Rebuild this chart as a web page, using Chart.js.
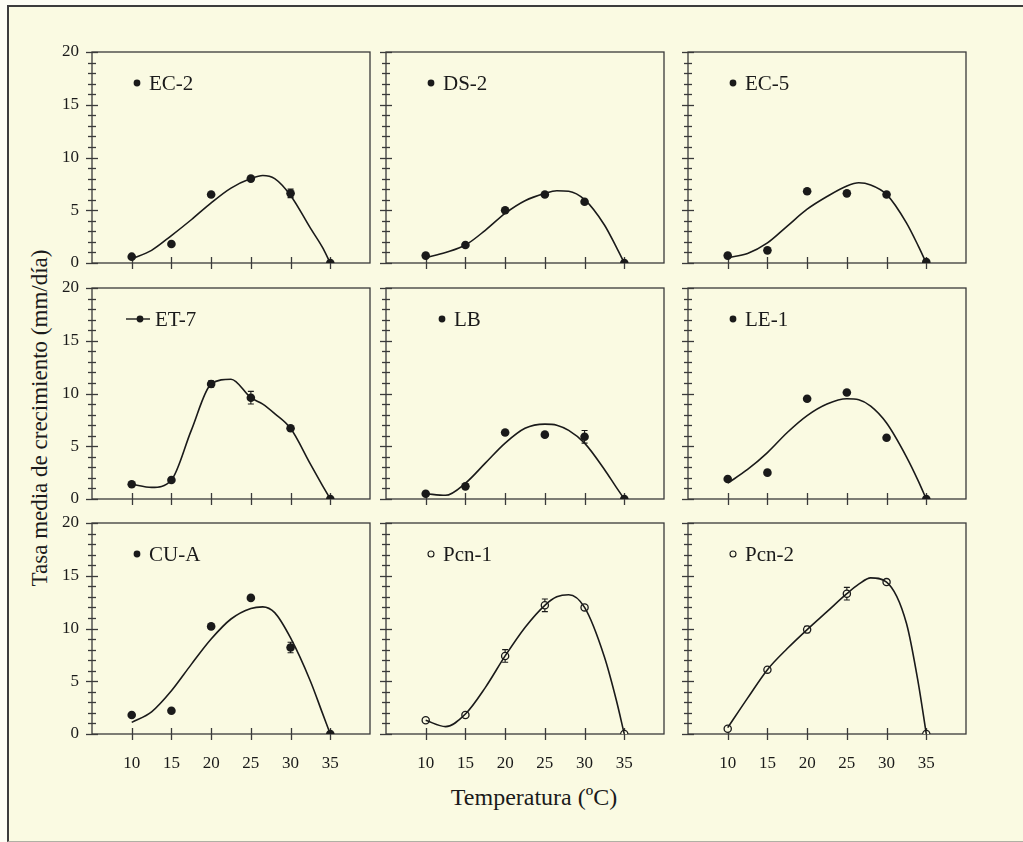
<!DOCTYPE html>
<html>
<head>
<meta charset="utf-8">
<script src="https://cdn.jsdelivr.net/npm/chart.js@4.4.1/dist/chart.umd.min.js"></script>
<style>
  body { margin: 0; background: #fdfdf4; width: 1023px; height: 842px; overflow: hidden; }
  #fig { position: absolute; left: 7px; top: 5px; width: 1030px; height: 834px; background: #fafae2;
         border-left: 2px solid #3c3c3c; border-top: 2px solid #3c3c3c; border-bottom: 1px solid #b0b0a4; }
  canvas { position: absolute; }
  .ttl { position: absolute; font-family: "Liberation Serif", serif; color: #1a1a1a; white-space: nowrap; }
</style>
</head>
<body>
<div id="fig"></div>
<div class="ttl" id="ytitle">Tasa media de crecimiento (mm/día)</div>
<div class="ttl" id="xtitle">Temperatura (ºC)</div>
<script>
// temperatures of the measurements and of the fitted curves
var temps = [10, 15, 20, 25, 30, 35];
var fitTemps = [10, 12.5, 15, 17.5, 20, 22.5, 25, 26.5, 28, 30, 32.5, 34, 35];
var xTicks = [10, 15, 20, 25, 30, 35];
var yTicks = [0, 5, 10, 15, 20];
var strains = ['EC-2', 'DS-2', 'EC-5', 'ET-7', 'LB', 'LE-1', 'CU-A', 'Pcn-1', 'Pcn-2'];

// mean growth rate (mm/dia)
var meanEC2 = [0.6, 1.8, 6.5, 8.0, 6.6, 0];
var meanDS2 = [0.7, 1.7, 5.0, 6.5, 5.8, 0];
var meanEC5 = [0.7, 1.2, 6.8, 6.6, 6.5, 0.1];
var meanET7 = [1.4, 1.8, 10.9, 9.6, 6.7, 0];
var meanLB = [0.5, 1.2, 6.3, 6.1, 5.9, 0];
var meanLE1 = [1.9, 2.5, 9.5, 10.1, 5.8, 0];
var meanCUA = [1.8, 2.2, 10.2, 12.9, 8.2, 0];
var meanPcn1 = [1.3, 1.8, 7.4, 12.2, 12.0, 0];
var meanPcn2 = [0.5, 6.1, 9.9, 13.3, 14.4, 0];

// error bars
var errEC2 = [0, 0, 0, 0, 0.4, 0];
var errDS2 = [0, 0, 0, 0, 0, 0];
var errEC5 = [0, 0, 0, 0, 0, 0];
var errET7 = [0, 0, 0.3, 0.6, 0, 0];
var errLB = [0, 0, 0, 0, 0.6, 0];
var errLE1 = [0, 0, 0, 0, 0, 0];
var errCUA = [0, 0, 0, 0, 0.5, 0];
var errPcn1 = [0, 0, 0.6, 0.6, 0, 0];
var errPcn2 = [0, 0, 0.3, 0.6, 0.2, 0];

// fitted curves, read at fitTemps
var fitEC2 = [0.4, 1.2, 2.6, 4.1, 5.7, 7.1, 8.0, 8.3, 8.0, 6.4, 3.3, 1.5, 0];
var fitDS2 = [0.5, 1.0, 1.7, 3.1, 4.7, 5.9, 6.6, 6.85, 6.8, 6.0, 3.6, 1.5, 0];
var fitEC5 = [0.5, 0.9, 1.9, 3.5, 5.1, 6.3, 7.3, 7.6, 7.4, 6.5, 3.8, 1.6, 0];
var fitET7 = [1.4, 1.1, 1.8, 6.5, 10.9, 11.35, 9.6, 9.0, 8.1, 6.7, 3.3, 1.3, 0];
var fitLB = [0.5, 0.35, 1.5, 3.4, 5.3, 6.7, 7.1, 7.0, 6.5, 5.3, 2.8, 1.1, 0];
var fitLE1 = [1.5, 2.8, 4.4, 6.3, 7.9, 9.0, 9.5, 9.4, 8.8, 7.2, 4.0, 1.7, 0];
var fitCUA = [1.1, 2.1, 4.1, 6.6, 9.0, 10.9, 11.9, 12.05, 11.5, 9.1, 5.0, 2.0, 0];
var fitPcn1 = [1.3, 0.7, 1.9, 4.4, 7.4, 10.1, 12.2, 13.0, 13.2, 12.0, 7.3, 3.2, 0];
var fitPcn2 = [0.6, 3.4, 6.1, 8.1, 9.9, 11.6, 13.3, 14.2, 14.8, 14.4, 10.5, 4.8, 0];

var means = [meanEC2, meanDS2, meanEC5, meanET7, meanLB, meanLE1, meanCUA, meanPcn1, meanPcn2];
var errs = [errEC2, errDS2, errEC5, errET7, errLB, errLE1, errCUA, errPcn1, errPcn2];
var fits = [fitEC2, fitDS2, fitEC5, fitET7, fitLB, fitLE1, fitCUA, fitPcn1, fitPcn2];

var ink = '#1a1a1a';
var paper = '#fafae2';
var serif = '"Liberation Serif", "Times New Roman", serif';

// panel geometry
var colLeft = [92, 386, 688];
var rowTop = [52, 288, 523];
var plotW = 278, plotH = 211;
var yAxisW = 45, xAxisH = 50, padT = 8, padR = 8;

document.getElementById('ytitle').style.cssText = 'left:40px;top:418px;font-size:23px;transform:translate(-50%,-50%) rotate(-90deg);';
document.getElementById('xtitle').style.cssText = 'left:534px;top:797px;font-size:24px;transform:translate(-50%,-50%);';

var panelPlugin = {
  id: 'panel',
  beforeDatasetsDraw: function (chart, args, opts) {
    var c = chart.ctx, a = chart.chartArea, xs = chart.scales.x, ys = chart.scales.y;
    c.save();
    c.strokeStyle = '#3a3a3a';
    c.lineWidth = 1.3;
    c.strokeRect(a.left, a.top, a.right - a.left, a.bottom - a.top);
    // y ticks, major and minor, crossing the axis
    for (var v = 0; v <= 20; v++) {
      var py = Math.round(ys.getPixelForValue(v)) + 0.5;
      var len = v % 5 === 0 ? 6 : 4;
      c.beginPath(); c.moveTo(a.left - len, py); c.lineTo(a.left + len, py); c.stroke();
    }
    xTicks.forEach(function (t) {
      var px = Math.round(xs.getPixelForValue(t)) + 0.5;
      c.beginPath(); c.moveTo(px, a.bottom - 6); c.lineTo(px, a.bottom + 6); c.stroke();
    });
    // error bars
    c.lineWidth = 1.1;
    c.strokeStyle = ink;
    temps.forEach(function (t, j) {
      var e = opts.err[j];
      if (!e) return;
      var px = xs.getPixelForValue(t);
      var y1 = ys.getPixelForValue(opts.mean[j] + e), y2 = ys.getPixelForValue(opts.mean[j] - e);
      c.beginPath();
      c.moveTo(px, y1); c.lineTo(px, y2);
      c.moveTo(px - 3, y1); c.lineTo(px + 3, y1);
      c.moveTo(px - 3, y2); c.lineTo(px + 3, y2);
      c.stroke();
    });
    c.restore();
  },
  afterDatasetsDraw: function (chart, args, opts) {
    var c = chart.ctx, a = chart.chartArea;
    var mx = a.left + opts.markX, my = a.top + 31;
    c.save();
    c.strokeStyle = ink;
    c.fillStyle = ink;
    if (opts.withLine) {
      c.lineWidth = 1.4;
      c.beginPath(); c.moveTo(mx - 14, my); c.lineTo(mx + 10, my); c.stroke();
    }
    c.beginPath();
    c.arc(mx, my, opts.open ? 3 : 3.4, 0, Math.PI * 2);
    if (opts.open) { c.fillStyle = paper; c.fill(); c.lineWidth = 1.1; c.stroke(); }
    else c.fill();
    c.fillStyle = ink;
    c.font = '21px ' + serif;
    c.textBaseline = 'middle';
    c.fillText(opts.label, mx + (opts.withLine ? 15 : 12), my + 1);
    c.restore();
  }
};

strains.forEach(function (name, i) {
  var row = Math.floor(i / 3), col = i % 3;
  var open = name.indexOf('Pcn') === 0;
  var cv = document.createElement('canvas');
  var w = yAxisW + plotW + padR, h = padT + plotH + xAxisH;
  cv.width = w; cv.height = h;
  cv.style.left = (colLeft[col] - yAxisW) + 'px';
  cv.style.top = (rowTop[row] - padT) + 'px';
  cv.style.width = w + 'px'; cv.style.height = h + 'px';
  document.body.appendChild(cv);

  new Chart(cv, {
    type: 'scatter',
    data: {
      datasets: [{
        type: 'line',
        data: fitTemps.map(function (t, j) { return { x: t, y: fits[i][j] }; }),
        borderColor: ink,
        borderWidth: 1.6,
        pointRadius: 0,
        cubicInterpolationMode: 'monotone',
        fill: false
      }, {
        label: name,
        data: temps.map(function (t, j) { return { x: t, y: means[i][j] }; }),
        pointRadius: open ? 3.6 : 4.3,
        pointBackgroundColor: open ? paper : ink,
        pointBorderColor: ink,
        pointBorderWidth: open ? 1.3 : 0
      }]
    },
    options: {
      responsive: false,
      animation: false,
      events: [],
      layout: { padding: { top: padT, right: padR, left: 0, bottom: 0 } },
      plugins: {
        legend: { display: false },
        tooltip: { enabled: false },
        panel: {
          label: name, mean: means[i], err: errs[i], open: open,
          withLine: name === 'ET-7',
          markX: name === 'LB' ? 56 : (name === 'ET-7' ? 48 : 45)
        }
      },
      scales: {
        x: {
          type: 'linear', min: 5, max: 40,
          afterFit: function (s) { s.height = xAxisH; s.paddingLeft = 0; s.paddingRight = 0; },
          afterBuildTicks: function (s) { s.ticks = xTicks.map(function (v) { return { value: v }; }); },
          grid: { display: false, drawTicks: false },
          border: { display: false },
          ticks: { display: row === 2, padding: 19, color: ink, font: { family: serif, size: 17 } }
        },
        y: {
          type: 'linear', min: 0, max: 20,
          afterFit: function (s) { s.width = yAxisW; s.paddingTop = 0; s.paddingBottom = 0; },
          afterBuildTicks: function (s) { s.ticks = yTicks.map(function (v) { return { value: v }; }); },
          grid: { display: false, drawTicks: false },
          border: { display: false },
          ticks: { display: col === 0, padding: 13, color: ink, font: { family: serif, size: 17 } }
        }
      }
    },
    plugins: [panelPlugin]
  });
});
</script>
</body>
</html>
